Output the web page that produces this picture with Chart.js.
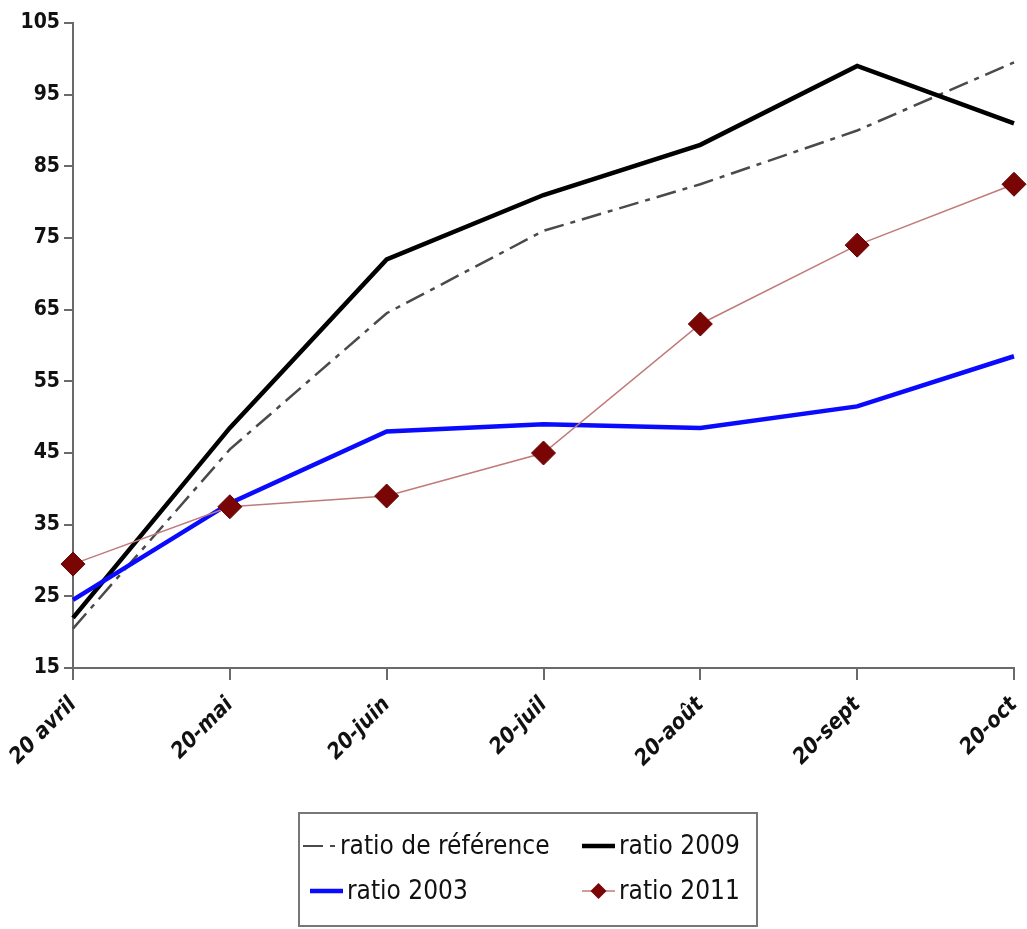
<!DOCTYPE html>
<html>
<head>
<meta charset="utf-8">
<script src="https://cdn.jsdelivr.net/npm/chart.js@4/dist/chart.umd.min.js"></script>
<style>
  html, body { margin: 0; padding: 0; background: #fff; }
  #wrap { width: 1027px; height: 929px; }
</style>
</head>
<body>
<div id="wrap"><canvas id="graf" width="1027" height="929"></canvas></div>
<script>
const labels = ['20 avril', '20-mai', '20-juin', '20-juil', '20-août', '20-sept', '20-oct'];
const ratioRef = [20.5, 45.5, 64.5, 76, 82.5, 90, 99.5];
const ratio2009 = [22, 48.5, 72, 81, 88, 99, 91];
const ratio2003 = [24.5, 38, 48, 49, 48.5, 51.5, 58.5];
const ratio2011 = [29.5, 37.5, 39, 45, 63, 74, 82.5];
const yTicks = [15, 25, 35, 45, 55, 65, 75, 85, 95, 105];

const narrow = "'Liberation Sans Narrow', 'DejaVu Sans Condensed', 'Liberation Sans', sans-serif";

// legend in a box, two rows of two, like the original
const boxLegend = {
  id: 'boxLegend',
  afterDraw(chart) {
    const ctx = chart.ctx
    const ds = chart.data.datasets
    ctx.save()
    ctx.strokeStyle = '#777'
    ctx.lineWidth = 2
    ctx.strokeRect(299, 813, 458, 113)
    const slots = [[303, 846], [582, 846], [310, 891], [582, 891]]
    ds.forEach((d, i) => {
      const [x, y] = slots[i]
      const len = 33
      ctx.save()
      ctx.strokeStyle = d.borderColor
      ctx.lineWidth = d.legendWidth || d.borderWidth
      ctx.setLineDash(d.borderDash || [])
      ctx.beginPath()
      ctx.moveTo(x, y)
      ctx.lineTo(x + len, y)
      ctx.stroke()
      ctx.restore()
      if (d.pointRadius > 0) {
        const cx = x + len / 2, r = 8
        ctx.beginPath()
        ctx.moveTo(cx, y - r)
        ctx.lineTo(cx + r, y)
        ctx.lineTo(cx, y + r)
        ctx.lineTo(cx - r, y)
        ctx.closePath()
        ctx.fillStyle = d.pointBackgroundColor
        ctx.fill()
      }
      ctx.fillStyle = '#111'
      ctx.font = '26px ' + narrow
      ctx.textBaseline = 'middle'
      ctx.fillText(d.label, x + len + 4, y + 1)
    })
    ctx.restore()
  }
}

const graph = document.getElementById('graf')
new Chart(graph, {
  type: 'line',
  data: {
    labels: labels,
    datasets: [
      {
        label: 'ratio de référence',
        data: ratioRef,
        borderColor: '#4a4a4a',
        borderWidth: 2.5,
        borderDash: [20, 7, 5, 7],
        legendWidth: 2,
        pointRadius: 0,
        tension: 0,
        order: 3
      },
      {
        label: 'ratio 2009',
        data: ratio2009,
        borderColor: '#000000',
        borderWidth: 4.5,
        pointRadius: 0,
        tension: 0,
        order: 2
      },
      {
        label: 'ratio 2003',
        data: ratio2003,
        borderColor: '#0a0aff',
        borderWidth: 4.5,
        pointRadius: 0,
        tension: 0,
        order: 1
      },
      {
        label: 'ratio 2011',
        data: ratio2011,
        borderColor: '#c07a7a',
        borderWidth: 1.5,
        pointStyle: 'rectRot',
        pointRadius: 12,
        pointBackgroundColor: '#7a0505',
        pointBorderColor: '#6a0000',
        pointBorderWidth: 1,
        tension: 0,
        order: 0
      }
    ]
  },
  options: {
    responsive: false,
    animation: false,
    layout: { padding: { top: 23, right: 7, bottom: 131, left: 0 } },
    plugins: {
      legend: { display: false },
      tooltip: { enabled: false }
    },
    scales: {
      x: {
        offset: false,
        afterFit: s => { s.height = 130; s.paddingRight = 0; s.paddingLeft = 0 },
        border: { display: true, color: '#6a6a6a', width: 2 },
        grid: { display: true, drawOnChartArea: false, drawTicks: true, tickLength: 12, color: '#6a6a6a', lineWidth: 2 },
        ticks: {
          color: '#111',
          maxRotation: 45,
          minRotation: 45,
          padding: 12,
          font: { family: narrow, size: 22, style: 'italic', weight: 'bold' }
        }
      },
      y: {
        min: 15,
        max: 105,
        afterFit: s => { s.width = 73 },
        afterBuildTicks: s => { s.ticks = yTicks.map(v => ({ value: v })) },
        border: { display: true, color: '#6a6a6a', width: 2 },
        grid: { display: true, drawOnChartArea: false, drawTicks: true, tickLength: 9, color: '#6a6a6a', lineWidth: 2 },
        ticks: {
          color: '#111',
          padding: 4,
          font: { family: narrow, size: 21, weight: 'bold' }
        }
      }
    }
  },
  plugins: [boxLegend]
})
</script>
</body>
</html>
